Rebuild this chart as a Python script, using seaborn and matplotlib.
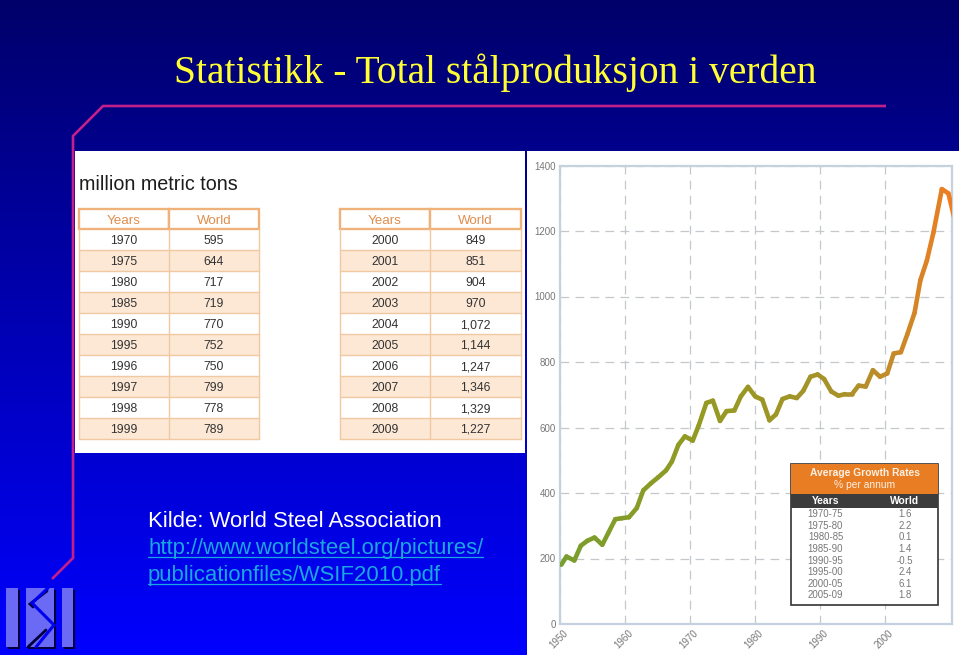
import numpy as np
import pandas as pd
import matplotlib
matplotlib.use("Agg")
import matplotlib.pyplot as plt
from matplotlib.patches import Rectangle
from matplotlib.colors import LinearSegmentedColormap, to_hex
from matplotlib.transforms import ScaledTranslation
import seaborn as sns

# ---- data ----
axis_year = [1950.2, 1951.0, 1952.2, 1953.2, 1954.2, 1955.3, 1956.5, 1957.4, 1958.5, 1959.5,
             1960.6, 1961.8, 1962.8, 1964.0, 1965.1, 1966.3, 1967.2, 1968.2, 1969.2, 1970.4,
             1971.3, 1972.5, 1973.5, 1974.6, 1975.6, 1976.8, 1977.8, 1978.9, 1980.0, 1981.1,
             1982.2, 1983.2, 1984.2, 1985.3, 1986.4, 1987.4, 1988.5, 1989.6, 1990.6, 1991.7,
             1992.8, 1993.8, 1994.9, 1995.9, 1997.0, 1998.1, 1999.2, 2000.3, 2001.3, 2002.4,
             2003.4, 2004.5, 2005.4, 2006.4, 2007.4, 2008.7, 2009.7, 2010.8]
production = [181, 206, 194, 239, 254, 264, 242, 277, 320, 323,
              326, 354, 408, 430, 448, 469, 496, 547, 573, 560,
              605, 675, 682, 620, 650, 652, 695, 724, 695, 685,
              622, 640, 687, 695, 690, 712, 755, 762, 748, 710,
              697, 702, 702, 728, 725, 775, 755, 765, 826, 830,
              885, 950, 1050, 1110, 1195, 1328, 1315, 1225]
x_ticks = [1950, 1960, 1970, 1980, 1990, 2000]
y_ticks = [0, 200, 400, 600, 800, 1000, 1200, 1400]

years_left = ["1970", "1975", "1980", "1985", "1990", "1995", "1996", "1997", "1998", "1999"]
world_left = ["595", "644", "717", "719", "770", "752", "750", "799", "778", "789"]
years_right = ["2000", "2001", "2002", "2003", "2004", "2005", "2006", "2007", "2008", "2009"]
world_right = ["849", "851", "904", "970", "1,072", "1,144", "1,247", "1,346", "1,329", "1,227"]
growth_periods = ["1970-75", "1975-80", "1980-85", "1985-90", "1990-95", "1995-00", "2000-05", "2005-09"]
growth_rates = ["1.6", "2.2", "0.1", "1.4", "-0.5", "2.4", "6.1", "1.8"]

title_text = "Statistikk - Total stålproduksjon i verden"
source_lines = ["Kilde: World Steel Association"]
link_lines = ["http://www.worldsteel.org/pictures/", "publicationfiles/WSIF2010.pdf"]

# ---- figure ----
sns.set_theme(style="white")
W, H = 959, 655
plt.rcParams["font.family"] = ["Liberation Sans", "DejaVu Sans"]
fig = plt.figure(figsize=(W / 100, H / 100), dpi=100)

# background
bg = fig.add_axes([0, 0, 1, 1], zorder=0)
bg.set_xlim(0, W); bg.set_ylim(H, 0); bg.axis("off")
grad_cmap = LinearSegmentedColormap.from_list("bg", ["#00006a", "#0000ff"])
bg.imshow(np.linspace(0, 1, 256).reshape(-1, 1), cmap=grad_cmap, extent=(0, W, H, 0), aspect="auto")
bg.add_patch(Rectangle((75, 151), 450, 302, fc="white", ec="none"))
bg.add_patch(Rectangle((527, 151), 432, 504, fc="white", ec="none"))

# chart
def frac(x0, y0, x1, y1):
    return [x0 / W, 1 - y1 / H, (x1 - x0) / W, (y1 - y0) / H]

ax = fig.add_axes(frac(560, 165.5, 952, 624), zorder=1)
ax.patch.set_alpha(0)
line_cmap = LinearSegmentedColormap.from_list(
    "steel", [(0, "#789e2e"), (0.35, "#949a22"), (0.72, "#a8922a"), (0.88, "#cc8828"), (1, "#ee7d22")])
n_seg = len(axis_year) - 1
seg_colors = [to_hex(line_cmap(i / (n_seg - 1))) for i in range(n_seg)]
rows = []
for i in range(n_seg):
    rows.append((axis_year[i], production[i], i))
    rows.append((axis_year[i + 1], production[i + 1], i))
df = pd.DataFrame(rows, columns=["year", "tons", "seg"])
sns.lineplot(data=df, x="year", y="tons", hue="seg", palette=seg_colors, estimator=None,
             sort=False, legend=False, linewidth=3.3, ax=ax, solid_capstyle="round", zorder=3)
ax.set_xlim(1950, 2010.26)
ax.set_ylim(0, 1400)
ax.set_xticks(x_ticks)
ax.set_yticks(y_ticks)
ax.set_xlabel(""); ax.set_ylabel("")
ax.grid(True, color="#c4c8cc", linestyle=(0, (7, 5)), linewidth=0.9)
ax.set_axisbelow(True)
for s in ax.spines.values():
    s.set_color("#c5d1de"); s.set_linewidth(1.6)
ax.tick_params(axis="both", length=0, labelsize=7.0, labelcolor="#777777", pad=3)
shift = ScaledTranslation(3 / 100, 0, fig.dpi_scale_trans)
for lab in ax.get_xticklabels():
    lab.set_rotation(45); lab.set_ha("right"); lab.set_rotation_mode("anchor")
    lab.set_transform(lab.get_transform() + shift)

# overlay in pixel coordinates
ov = fig.add_axes([0, 0, 1, 1], zorder=2)
ov.set_xlim(0, W); ov.set_ylim(H, 0); ov.axis("off"); ov.patch.set_alpha(0)

# title and magenta rule
ov.text(174, 83, title_text, family="Liberation Serif", fontsize=28.45, color="#ffff33", va="baseline")
ov.plot([52, 73, 73, 103, 886], [579, 558, 136, 106, 106], color="#c4208c", lw=1.9,
        solid_joinstyle="miter", solid_capstyle="butt")

# source text
ov.text(148, 527, source_lines[0], fontsize=15.9, color="white", va="baseline")
link_color = "#1aa6e0"
for txt, yb in zip(link_lines, [554, 581]):
    t = ov.text(148, yb, txt, fontsize=15.9, color=link_color, va="baseline")
    fig.canvas.draw()
    bb = t.get_window_extent()
    ov.plot([bb.x0, bb.x1], [yb + 2.5, yb + 2.5], color=link_color, lw=0.9)

# left-panel tables
ov.text(79, 190, "million metric tons", fontsize=14.2, color="#1c1c1c", va="baseline")
edge = "#f0c9a0"
hdr = "#eeb27a"
rows_y = [229 + 21 * i for i in range(11)]
for x0, x1, xm, yrs, vals in [(79, 259, 169, years_left, world_left),
                              (340, 521, 430, years_right, world_right)]:
    for i, (yy, vv) in enumerate(zip(yrs, vals)):
        y0, y1 = rows_y[i], rows_y[i + 1]
        if i % 2 == 1:
            ov.add_patch(Rectangle((x0, y0), x1 - x0, 21, fc="#fde8d6", ec="none"))
        ov.plot([x0, x1], [y1, y1], color=edge, lw=1.0)
        ybase = (y0 + y1) / 2 + 4.5
        ov.text((x0 + xm) / 2, ybase, yy, fontsize=8.8, color="#333333", ha="center", va="baseline")
        ov.text((xm + x1) / 2, ybase, vv, fontsize=8.8, color="#333333", ha="center", va="baseline")
    for xv in (x0, xm, x1):
        ov.plot([xv, xv], [229, 439], color=edge, lw=1.0)
    ov.add_patch(Rectangle((x0, 208.5), xm - x0, 20.5, fc="white", ec=hdr, lw=1.7))
    ov.add_patch(Rectangle((xm, 208.5), x1 - xm, 20.5, fc="white", ec=hdr, lw=1.7))
    ov.text((x0 + xm) / 2, 223.5, "Years", fontsize=9.6, color="#e08d4c", ha="center", va="baseline")
    ov.text((xm + x1) / 2, 223.5, "World", fontsize=9.6, color="#e08d4c", ha="center", va="baseline")

# growth-rate inset
ov.add_patch(Rectangle((791, 463.5), 147, 141, fc="white", ec="#333333", lw=1.2, zorder=2))
ov.add_patch(Rectangle((791, 463.5), 147, 30, fc="#e97d23", ec="none", zorder=3))
ov.add_patch(Rectangle((791, 493.5), 147, 14, fc="#3c3c3c", ec="none", zorder=3))
ov.text(864.5, 472.5, "Average Growth Rates", fontsize=7.4, fontweight="bold", color="#fdf0e4",
        ha="center", va="center", zorder=4)
ov.text(864.5, 485.5, "% per annum", fontsize=7.4, color="#fdf0e4", ha="center", va="center", zorder=4)
ov.text(825.5, 501, "Years", fontsize=7.4, fontweight="bold", color="white", ha="center", va="center", zorder=4)
ov.text(905, 501, "World", fontsize=7.4, fontweight="bold", color="white", ha="center", va="center", zorder=4)
for p, r, yc in zip(growth_periods, growth_rates, [514, 526, 537.5, 549, 561, 572, 584, 595]):
    ov.text(825.5, yc + 3, p, fontsize=6.9, color="#777777", ha="center", va="baseline", zorder=4)
    ov.text(905, yc + 3, r, fontsize=6.9, color="#777777", ha="center", va="baseline", zorder=4)

# navigation logo
logo = "#6a6af5"
shadow = "#00003c"
for x0, x1 in [(6, 18), (26, 54), (62, 73)]:
    ov.add_patch(Rectangle((x0 + 2, 590), x1 - x0, 59, fc=shadow, ec="none", zorder=5))
    ov.add_patch(Rectangle((x0, 588), x1 - x0, 59, fc=logo, ec="none", zorder=6))
ov.plot([47, 30, 33], [591, 604, 607], color=shadow, lw=2.0, zorder=7, solid_joinstyle="miter")
ov.plot([46, 28], [630, 647], color=shadow, lw=2.0, zorder=7)
ov.plot([48, 32, 54, 36], [588, 603, 625, 647], color="#0000f0", lw=2.2, zorder=8, solid_joinstyle="miter")

fig.savefig("out.png", dpi=100)
